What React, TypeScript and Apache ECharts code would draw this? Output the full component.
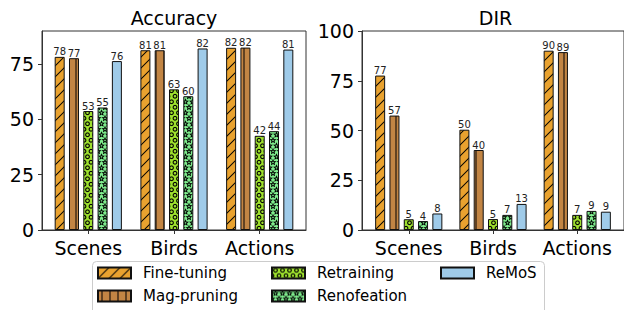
import React, { useEffect, useRef } from 'react';
import * as echarts from 'echarts';

const categories = ['Scenes', 'Birds', 'Actions'];
const methods = ['Fine-tuning', 'Mag-pruning', 'Retraining', 'Renofeation', 'ReMoS'];

// Accuracy panel values
const accFineTuning = [78.3, 81.3, 82.4];
const accMagPruning = [77.7, 81.3, 82.5];
const accRetraining = [53.8, 63.6, 42.6];
const accRenofeation = [55.4, 60.5, 44.7];
const accReMoS = [76.4, 82.1, 81.6];

// DIR panel values
const dirFineTuning = [77.6, 50.4, 90.1];
const dirMagPruning = [57.5, 40.2, 89.4];
const dirRetraining = [5.4, 5.5, 7.6];
const dirRenofeation = [4.5, 7.6, 9.6];
const dirReMoS = [8.3, 13.1, 9.2];

const accTicks = [0, 25, 50, 75];
const dirTicks = [0, 25, 50, 75, 100];
const catPositions = [0, 1, 2];

const FONT = 'DejaVu Sans';
const baseColors = ['#E9A22F', '#C28544', '#9EE02E', '#80EE8E', '#9FCBE9'];

type Draw = (ctx: CanvasRenderingContext2D) => void;

function makePattern(bg: string, w: number, h: number, draw?: Draw): any {
  const s = 4;
  const c = document.createElement('canvas');
  c.width = Math.round(w * s);
  c.height = Math.round(h * s);
  const ctx = c.getContext('2d')!;
  ctx.scale(s, s);
  ctx.fillStyle = bg;
  ctx.fillRect(0, 0, w, h);
  ctx.strokeStyle = '#000';
  ctx.fillStyle = '#000';
  if (draw) draw(ctx);
  return { image: c.toDataURL(), repeat: 'repeat', imageWidth: w, imageHeight: h };
}

function star(ctx: CanvasRenderingContext2D, cx: number, cy: number, R: number, r: number) {
  ctx.beginPath();
  for (let k = 0; k < 10; k++) {
    const rad = k % 2 === 0 ? R : r;
    const a = -Math.PI / 2 + (k * Math.PI) / 5;
    const x = cx + rad * Math.cos(a);
    const y = cy + rad * Math.sin(a);
    if (k === 0) ctx.moveTo(x, y);
    else ctx.lineTo(x, y);
  }
  ctx.closePath();
  ctx.stroke();
}

function buildPatterns() {
  const ft = makePattern(baseColors[0], 11, 11, (ctx) => {
    ctx.lineWidth = 1;
    ctx.beginPath();
    ctx.moveTo(0, 11); ctx.lineTo(11, 0);
    ctx.moveTo(-1, 1); ctx.lineTo(1, -1);
    ctx.moveTo(10, 12); ctx.lineTo(12, 10);
    ctx.stroke();
  });
  const mp = makePattern(baseColors[1], 8, 8, (ctx) => {
    ctx.lineWidth = 1;
    ctx.beginPath();
    ctx.moveTo(4, -1); ctx.lineTo(4, 9);
    ctx.stroke();
  });
  const ret = makePattern(baseColors[2], 7, 11, (ctx) => {
    ctx.lineWidth = 1.1;
    const pts = [[3.5, 2.75], [0, 8.25], [7, 8.25], [3.5, 13.75], [0, -2.75], [7, -2.75]];
    pts.forEach(([x, y]) => {
      ctx.beginPath();
      ctx.arc(x, y, 1.85, 0, Math.PI * 2);
      ctx.stroke();
    });
  });
  const reno = makePattern(baseColors[3], 7, 11, (ctx) => {
    ctx.lineWidth = 0.9;
    const pts = [[3.5, 2.9], [0, 8.4], [7, 8.4], [3.5, 13.9], [0, -2.6], [7, -2.6]];
    pts.forEach(([x, y]) => star(ctx, x, y, 2.5, 1.1));
  });
  const remos = baseColors[4];
  return [ft, mp, ret, reno, remos];
}

export default function App() {
  const ref = useRef<HTMLDivElement>(null);

  useEffect(() => {
    if (!ref.current) return;
    const chart = echarts.init(ref.current, null, { renderer: 'svg' });
    const patterns = buildPatterns();
    const accData = [accFineTuning, accMagPruning, accRetraining, accRenofeation, accReMoS];
    const dirData = [dirFineTuning, dirMagPruning, dirRetraining, dirRenofeation, dirReMoS];

    const series: any[] = [];
    [accData, dirData].forEach((panel, g) => {
      methods.forEach((name, i) => {
        series.push({
          type: 'bar',
          name,
          xAxisIndex: g,
          yAxisIndex: g,
          data: panel[i].map((v, j) => [catPositions[j], v]),
          barWidth: 10,
          barGap: '43%',
          itemStyle: { color: patterns[i], borderColor: '#111', borderWidth: 1 },
          label: {
            show: true,
            position: 'top',
            distance: 0,
            formatter: (p: any) => String(Math.floor(p.value[1])),
            fontSize: 10,
            fontFamily: FONT,
            color: '#222',
          },
          emphasis: { disabled: true },
        });
      });
    });

    const axisLine = { show: true, onZero: false, lineStyle: { color: '#333', width: 1 } };
    const xAxisBase = (min: number, max: number, gi: number) => ({
      type: 'value',
      gridIndex: gi,
      min,
      max,
      axisLine,
      splitLine: { show: false },
      axisTick: { show: true, customValues: catPositions, length: 4, lineStyle: { color: '#333' } },
      axisLabel: {
        customValues: catPositions,
        formatter: (v: number) => categories[Math.round(v)] ?? '',
        fontSize: 19,
        fontFamily: FONT,
        color: '#000',
        margin: 8,
      },
    });

    const legendCommon = {
      orient: 'vertical',
      padding: 0,
      itemWidth: 33,
      itemHeight: 11,
      itemGap: 8,
      icon: 'rect',
      selectedMode: false,
      textStyle: { fontSize: 15, fontFamily: FONT, color: '#000', lineHeight: 15, padding: [0, 0, 0, 7] },
    };

    chart.setOption({
      animation: false,
      backgroundColor: '#fff',
      grid: [
        { left: 42, top: 31, width: 264, height: 199, show: true, borderColor: '#333', borderWidth: 1 },
        { left: 362, top: 31, width: 267.5, height: 199, show: true, borderColor: '#333', borderWidth: 1 },
      ],
      xAxis: [xAxisBase(-0.54, 2.54, 0), xAxisBase(-0.555, 2.555, 1)],
      yAxis: [
        {
          type: 'value',
          gridIndex: 0,
          min: 0,
          max: 90,
          axisLine,
          splitLine: { show: false },
          axisTick: { show: true, customValues: accTicks, length: 4, lineStyle: { color: '#333' } },
          axisLabel: { customValues: accTicks, fontSize: 19, fontFamily: FONT, color: '#000', margin: 8 },
        },
        {
          type: 'value',
          gridIndex: 1,
          min: 0,
          max: 100,
          interval: 25,
          axisLine,
          splitLine: { show: false },
          axisTick: { show: true, customValues: dirTicks, length: 4, lineStyle: { color: '#333' } },
          axisLabel: { customValues: dirTicks, fontSize: 19, fontFamily: FONT, color: '#000', margin: 8 },
        },
      ],
      legend: [
        { ...legendCommon, data: [methods[0], methods[1]], left: 97, top: 265.5 },
        { ...legendCommon, data: [methods[2], methods[3]], left: 271, top: 265.5 },
        { ...legendCommon, data: [methods[4]], left: 440, top: 265.5 },
      ],
      graphic: [
        {
          type: 'rect',
          z: -1,
          shape: { x: 92.5, y: 261.5, width: 452, height: 60, r: 4 },
          style: { fill: 'none', stroke: '#cccccc', lineWidth: 1 },
        },
        {
          type: 'text',
          x: 174,
          y: 17.5,
          style: { text: 'Accuracy', font: `19px "${FONT}"`, fill: '#000', textAlign: 'center', textVerticalAlign: 'middle' },
        },
        {
          type: 'text',
          x: 495.5,
          y: 17.5,
          style: { text: 'DIR', font: `19px "${FONT}"`, fill: '#000', textAlign: 'center', textVerticalAlign: 'middle' },
        },
      ],
      series,
    });

    return () => chart.dispose();
  }, []);

  return <div ref={ref} style={{ position: 'absolute', left: 0, top: 0, width: 624, height: 310 }} />;
}
